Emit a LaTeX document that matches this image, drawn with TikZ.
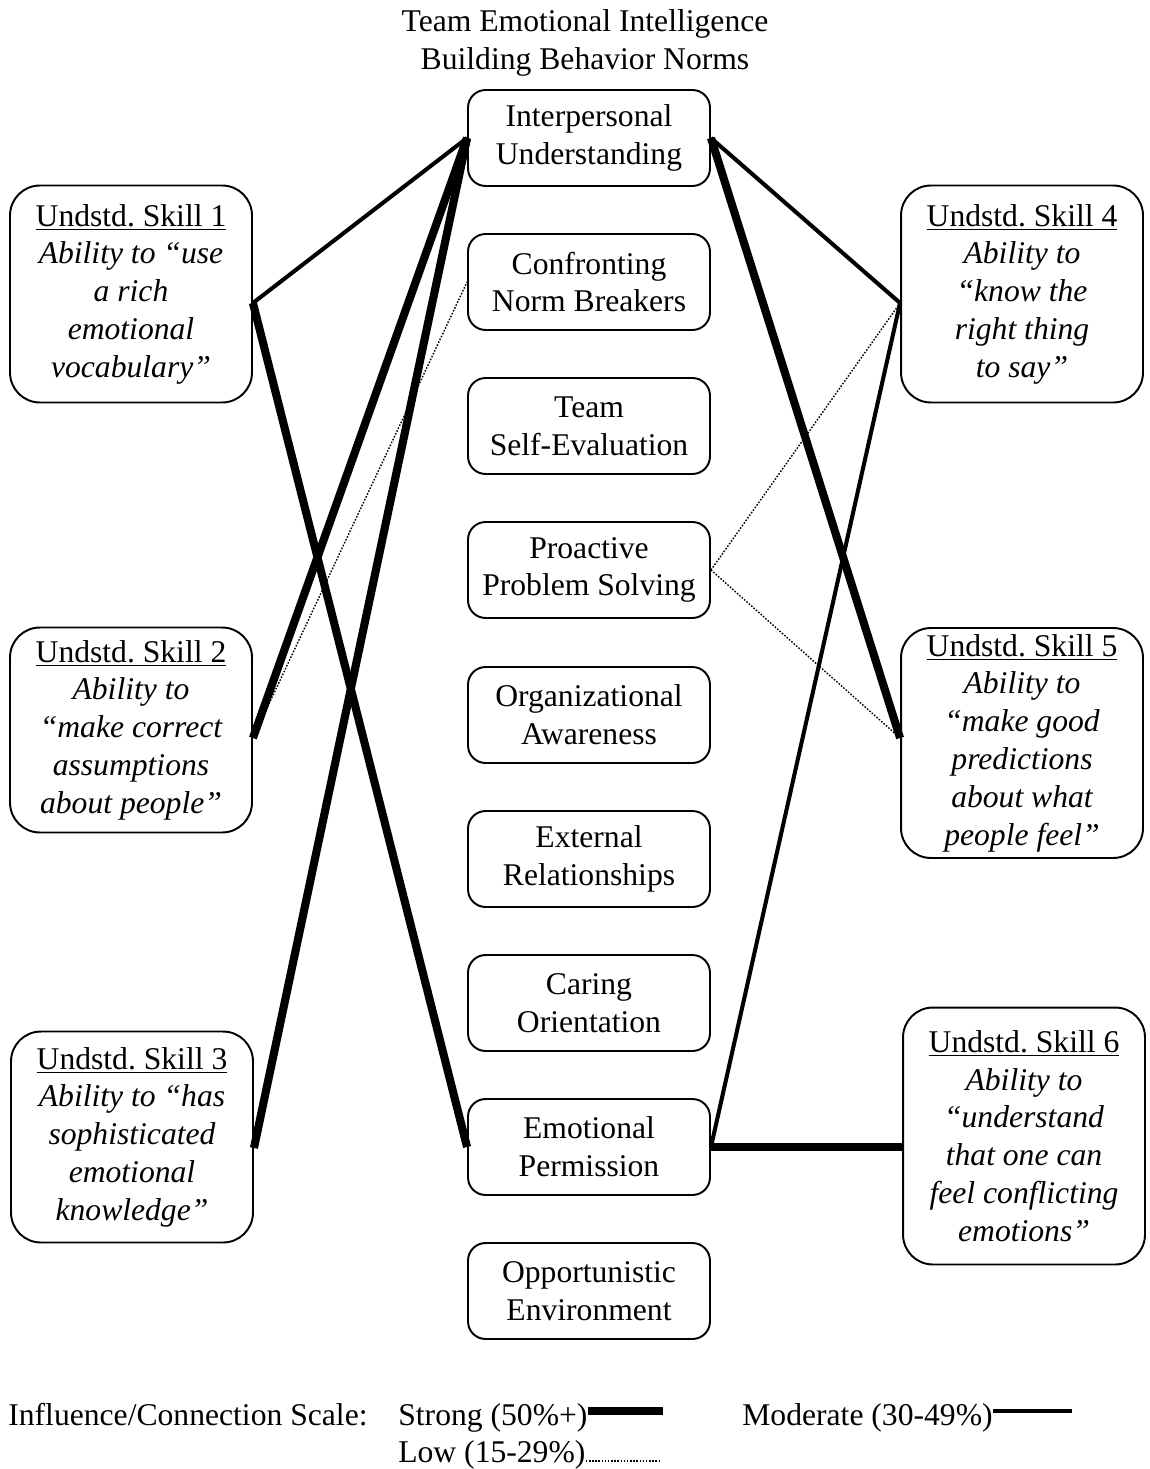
\documentclass[tikz,border=0pt]{standalone}
\usepackage{fontspec}
\setmainfont{Liberation Serif}
\frenchspacing
\usepackage{tikz}
\tikzstyle{chart}=[x=0.02cm, y=-0.02cm, font=\fontsize{18}{21.5}\selectfont]
\tikzstyle{norm}=[rectangle, rounded corners=10pt, draw, line width=1.1pt, fill=white, align=center, minimum width=\normW, minimum height=\normH, inner sep=2pt]
\tikzstyle{undstd}=[rectangle, rounded corners=17pt, draw, line width=1.1pt, fill=white, align=center, minimum width=\normW, inner sep=2pt]
\tikzstyle{strong}=[-, line width=4.6pt]
\tikzstyle{moderate}=[-, line width=2.3pt]
\tikzstyle{low}=[-, line width=0.8pt, dash pattern=on 0.9pt off 0.9pt]
\tikzstyle{lgd}=[inner sep=0pt, anchor=base west]
\newcommand{\normW}{4.84cm}
\newcommand{\normH}{1.92cm}
\begin{document}
\begin{tikzpicture}[chart]
		\useasboundingbox (0,0) rectangle (1149,1469);
		%The title
		\node[align=center] (title) at (585,43) {Team Emotional Intelligence\\Building Behavior Norms};
		
		%The norms
		\draw (589,138) node[norm] (iu) {Interpersonal\\Understanding};
		\draw (589,282) node[norm] (cnb) {Confronting\\Norm Breakers};
		\draw (589,426) node[norm] (tse) {Team\\Self-Evaluation};
		\draw (589,570) node[norm] (pps) {Proactive\\Problem Solving};
		\draw (589,715) node[norm] (oa) {Organizational\\Awareness};
		\draw (589,859) node[norm] (er) {External\\Relationships};
		\draw (589,1003) node[norm] (co) {Caring\\Orientation};
		\draw (589,1147) node[norm] (ep) {Emotional\\Permission};
		\draw (589,1291) node[norm] (oe) {Opportunistic\\Environment};
		
		%The left skills
		\draw (131,294) node[undstd, minimum height=4.34cm] (s1) {\underline{Undstd. Skill 1}\\\itshape Ability to “use\\\itshape a rich\\\itshape emotional\\\itshape vocabulary”};
		\draw (131,730) node[undstd, minimum height=4.1cm] (s2) {\underline{Undstd. Skill 2}\\\itshape Ability to\\\itshape “make correct\\\itshape assumptions\\\itshape about people”};
		\draw (132,1137) node[undstd, minimum height=4.22cm] (s3) {\underline{Undstd. Skill 3}\\\itshape Ability to “has\\\itshape sophisticated\\\itshape emotional\\\itshape knowledge”};
		
		%The right skills
		\draw (1022,294) node[undstd, minimum height=4.34cm] (s4) {\underline{Undstd. Skill 4}\\\itshape Ability to\\\itshape “know the\\\itshape right thing\\\itshape to say”};
		\draw (1022,743) node[undstd, minimum height=4.6cm] (s5) {\underline{Undstd. Skill 5}\\\itshape Ability to\\\itshape “make good\\\itshape predictions\\\itshape about what\\\itshape people feel”};
		\draw (1024,1136) node[undstd, minimum height=5.14cm] (s6) {\underline{Undstd. Skill 6}\\\itshape Ability to\\\itshape “understand\\\itshape that one can\\\itshape feel conflicting\\\itshape emotions”};
		
		%The line ends on the skills
		\coordinate (s1x) at ([yshift=-0.18cm]s1.east);
		\coordinate (s2x) at ([yshift=-0.16cm]s2.east);
		\coordinate (s3x) at ([yshift=-0.22cm]s3.east);
		\coordinate (s4x) at ([yshift=-0.18cm]s4.west);
		\coordinate (s5x) at ([yshift=0.1cm]s5.west);
		\coordinate (s6x) at ([yshift=-0.24cm]s6.west);
		
		%The connections
		\draw[moderate] (s1x) -- (iu.west);
		\draw[strong] (s1x) -- (ep.west);
		\draw[strong] (s2x) -- (iu.west);
		\draw[low] (s2x) -- (cnb.west);
		\draw[strong] (s3x) -- (iu.west);
		\draw[moderate] (iu.east) -- (s4x);
		\draw[strong] (iu.east) -- (s5x);
		\draw[low] (pps.east) -- (s4x);
		\draw[low] (pps.east) -- (s5x);
		\draw[moderate] (ep.east) -- (s4x);
		\draw[strong] (ep.east) -- (ep.east -| s6x);
		
		%The scale
		\node[lgd] (scale) at (8,1425) {Influence/Connection Scale:};
		\node[lgd] (strongkey) at (398,1425) {Strong (50\%+)};
		\node[lgd] (modkey) at (742,1425) {Moderate (30-49\%)};
		\node[lgd] (lowkey) at (398,1462) {Low (15-29\%)};
		\coordinate (strongend) at (663,1411);
		\coordinate (modend) at (1072,1411);
		\coordinate (lowend) at (660,1461);
		\draw[strong] (strongkey.east |- strongend) -- (strongend);
		\draw[moderate] (modkey.east |- modend) -- (modend);
		\draw[low] (lowkey.east |- lowend) -- (lowend);
		\end{tikzpicture}
\end{document}
